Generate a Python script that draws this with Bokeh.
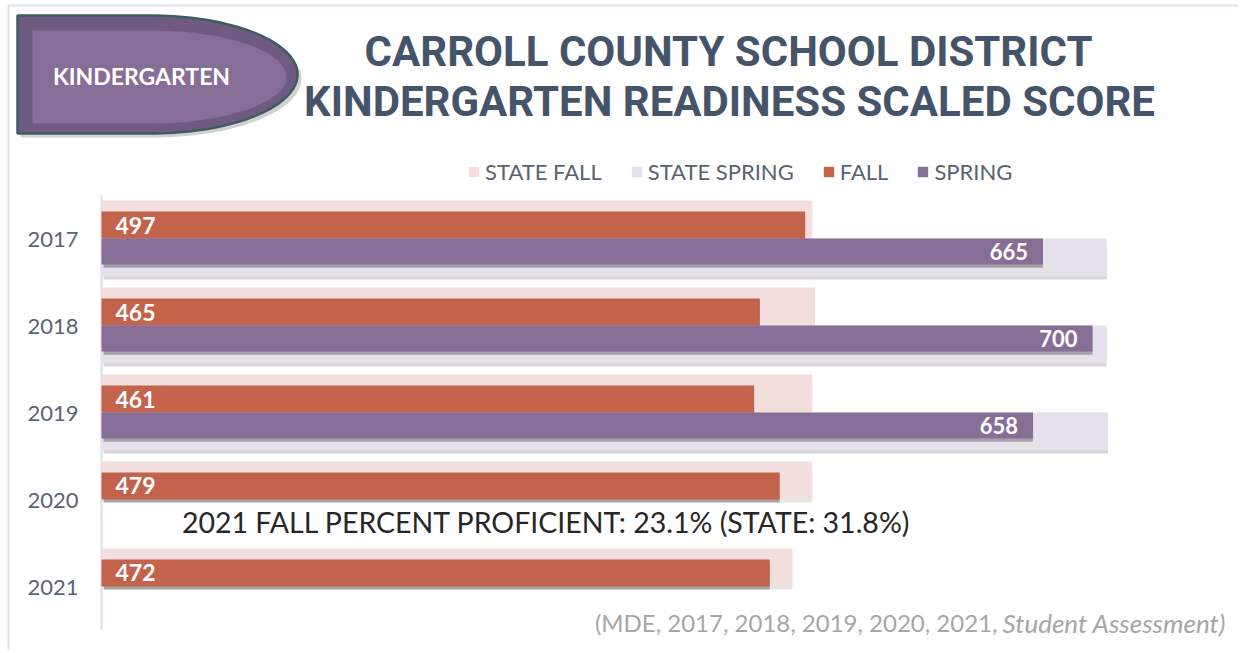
import numpy as np
from bokeh.plotting import figure
from bokeh.models import (ColumnDataSource, FactorRange, Range1d, Label, Legend, LegendItem,
                          PolyAnnotation, BoxAnnotation)
from bokeh.transform import dodge
from bokeh.embed import file_html
from bokeh.resources import INLINE
from bokeh.core.properties import value

# ---------------- data ----------------
years = ["2017", "2018", "2019", "2020", "2021"]
fall = [497, 465, 461, 479, 472]
spring = [665, 700, 658, None, None]
state_fall = [502, 504, 502, 502, 488]
state_spring = [710, 710, 711, None, None]
series_names = ["STATE FALL", "STATE SPRING", "FALL", "SPRING"]
title_lines = ["CARROLL COUNTY SCHOOL DISTRICT", "KINDERGARTEN READINESS SCALED SCORE"]
badge_text = "KINDERGARTEN"
note_text = "2021 FALL PERCENT PROFICIENT: 23.1% (STATE: 31.8%)"
source_plain = "(MDE, 2017, 2018, 2019, 2020, 2021,"
source_italic = "Student Assessment)"

# ---------------- styles / layout ----------------
C_STATE_FALL = "#F2DEDC"
C_STATE_SPRING = "#E5E0E9"
C_FALL = "#C3634C"
C_SPRING = "#866E97"
C_TITLE = "#44546A"
C_AXIS_TXT = "#5A6474"
FONT = "Lato"
TITLE_FONT = "Roboto"
W, H = 1240, 650
X0_PX = 101            # pixel where value 0 sits
PX_PER_UNIT = 1.4157   # horizontal scale
HEADER_BANDS = 2       # empty bands reserved above the chart for the header
PAD = 0.236            # band padding at both ends


def sx(px):
    return px


def sy(py):
    return H - py


# ---------------- sources ----------------
full = ColumnDataSource(dict(
    year=years,
    fall=fall,
    state_fall=state_fall,
    fall_lbl=[str(v) for v in fall],
))
sp_idx = [i for i, v in enumerate(spring) if v is not None]
sp = ColumnDataSource(dict(
    year=[years[i] for i in sp_idx],
    spring=[spring[i] for i in sp_idx],
    state_spring=[state_spring[i] for i in sp_idx],
    spring_lbl=[str(spring[i]) for i in sp_idx],
))
axis_src = ColumnDataSource(dict(x=[0], y0=[years[-1]], y1=[years[0]]))

# ---------------- figure ----------------
factors = list(reversed(years)) + [" " * (k + 1) for k in range(HEADER_BANDS)]
x_start = -X0_PX / PX_PER_UNIT
x_end = (W - X0_PX) / PX_PER_UNIT
p = figure(width=W, height=H,
           y_range=FactorRange(factors=factors, range_padding=PAD, range_padding_units="absolute"),
           x_range=Range1d(x_start, x_end), x_axis_location=None,
           min_border=0, min_border_left=0, min_border_right=0, min_border_top=0,
           min_border_bottom=0, toolbar_location=None, output_backend="svg")
p.outline_line_color = None
p.grid.visible = False
p.background_fill_color = "white"
p.border_fill_color = "white"

yax = p.yaxis[0]
yax.fixed_location = 0
yax.axis_line_color = None
yax.major_tick_line_color = None
yax.minor_tick_line_color = None
yax.major_label_text_font = FONT
yax.major_label_text_font_size = "22px"
yax.major_label_text_color = C_AXIS_TXT
yax.major_label_standoff = 17

# axis line limited to the chart bands
p.segment(x0="x", x1="x", y0=dodge("y0", -0.5, range=p.y_range),
          y1=dodge("y1", 0.5, range=p.y_range), source=axis_src,
          line_color="#D9DFE7", line_width=2)

SH = 0.035  # shadow offset in band units (~3px)
XS = 1.5    # shadow x offset in value units (~2px)

p.hbar(y=dodge("year", 0.2185 - SH, range=p.y_range), left=XS, right="state_fall", height=0.437,
       source=full, fill_color="#000000", fill_alpha=0.10, line_color=None)
r_sf = p.hbar(y=dodge("year", 0.2185, range=p.y_range), left=0, right="state_fall", height=0.437,
              source=full, fill_color=C_STATE_FALL, line_color=None)
p.hbar(y=dodge("year", -0.2185 - SH, range=p.y_range), left=XS, right="state_spring", height=0.437,
       source=sp, fill_color="#000000", fill_alpha=0.16, line_color=None)
r_ss = p.hbar(y=dodge("year", -0.2185, range=p.y_range), left=0, right="state_spring", height=0.437,
              source=sp, fill_color=C_STATE_SPRING, line_color=None)
p.hbar(y=dodge("year", 0.155 - SH, range=p.y_range), left=XS, right="fall", height=0.31,
       source=full, fill_color="#000000", fill_alpha=0.28, line_color=None)
r_f = p.hbar(y=dodge("year", 0.155, range=p.y_range), left=0, right="fall", height=0.31,
             source=full, fill_color=C_FALL, line_color=None)
p.hbar(y=dodge("year", -0.15 - SH, range=p.y_range), left=XS, right="spring", height=0.30,
       source=sp, fill_color="#000000", fill_alpha=0.28, line_color=None)
r_s = p.hbar(y=dodge("year", -0.15, range=p.y_range), left=0, right="spring", height=0.30,
             source=sp, fill_color=C_SPRING, line_color=None)

# value labels
p.text(x=0, y=dodge("year", 0.155, range=p.y_range), text="fall_lbl", source=full,
       x_offset=14, text_baseline="middle", text_align="left",
       text_font=value(FONT), text_font_style="bold", text_font_size="23px", text_color="white")
p.text(x="spring", y=dodge("year", -0.15, range=p.y_range), text="spring_lbl", source=sp,
       x_offset=-15, text_baseline="middle", text_align="right",
       text_font=value(FONT), text_font_style="bold", text_font_size="22px", text_color="white")

# legend
legend = Legend(items=[LegendItem(label=n, renderers=[r]) for n, r in
                       zip(series_names, [r_sf, r_ss, r_f, r_s])],
                orientation="horizontal", location=(sx(467), sy(185)),
                glyph_width=13, glyph_height=13, label_standoff=5, spacing=28,
                padding=0, margin=0, border_line_color=None, background_fill_alpha=0,
                label_text_font=FONT, label_text_font_size="22px", label_text_color="#5A6270")
p.add_layout(legend)

# ---------------- header decorations ----------------
def box(l, r, t, b, color):
    return BoxAnnotation(left=sx(l), right=sx(r), top=sy(t), bottom=sy(b),
                         left_units="screen", right_units="screen", top_units="screen",
                         bottom_units="screen", fill_color=color, fill_alpha=1, line_color=None,
                         level="underlay")


p.add_layout(box(8, 1238, 4, 6, "#DCE3EC"))
p.add_layout(box(7, 9, 4, H, "#DCE3EC"))


def bullet(x0, xs, y0, y1, xtip, n=80):
    yc = (y0 + y1) / 2.0
    b = (y1 - y0) / 2.0
    a = xtip - xs
    th = np.linspace(-np.pi / 2, np.pi / 2, n)
    xx = [x0] + list(xs + a * np.cos(th)) + [x0]
    yy = [y0] + list(yc + b * np.sin(th)) + [y1]
    return [sx(v) for v in xx], [sy(v) for v in yy]


for (x0, xs_, y0, y1, xt), fc, fa, lc in [
    ((20, 153, 19, 137, 301), "#000000", 0.18, None),
    ((17, 150, 15, 133, 297), "#6F5A82", 1.0, "#3E5C62"),
    ((32, 150, 30, 123, 286), "#866E97", 1.0, None),
]:
    bx, by = bullet(x0, xs_, y0, y1, xt)
    p.add_layout(PolyAnnotation(xs=bx, ys=by, xs_units="screen", ys_units="screen",
                                fill_color=fc, fill_alpha=fa,
                                line_color=lc, line_alpha=1 if lc else 0, line_width=2.5))

p.add_layout(Label(x=sx(141), y=sy(75), x_units="screen", y_units="screen", text=badge_text,
                   text_align="center", text_baseline="middle", text_font=FONT,
                   text_font_style="bold", text_font_size="23px", text_color="white"))
p.add_layout(Label(x=sx(728), y=sy(51), x_units="screen", y_units="screen", text=title_lines[0],
                   text_align="center", text_baseline="middle", text_font=TITLE_FONT,
                   text_font_style="bold", text_font_size="42px", text_color=C_TITLE))
p.add_layout(Label(x=sx(729), y=sy(101), x_units="screen", y_units="screen", text=title_lines[1],
                   text_align="center", text_baseline="middle", text_font=TITLE_FONT,
                   text_font_style="bold", text_font_size="42px", text_color=C_TITLE))

# ---------------- annotations in chart ----------------
p.add_layout(Label(x=sx(546), y=sy(521), x_units="screen", y_units="screen", text=note_text,
                   text_align="center", text_baseline="middle", text_font=FONT,
                   text_font_size="28.5px", text_color="#262626"))
p.add_layout(Label(x=sx(997), y=sy(622), x_units="screen", y_units="screen", text=source_plain,
                   text_align="right", text_baseline="middle", text_font=FONT,
                   text_font_size="24px", text_color="#A6A6A6"))
p.add_layout(Label(x=sx(1002), y=sy(622), x_units="screen", y_units="screen", text=source_italic,
                   text_align="left", text_baseline="middle", text_font=FONT,
                   text_font_style="italic", text_font_size="26px", text_color="#A6A6A6"))

open("out.html", "w").write(file_html(p, INLINE))
